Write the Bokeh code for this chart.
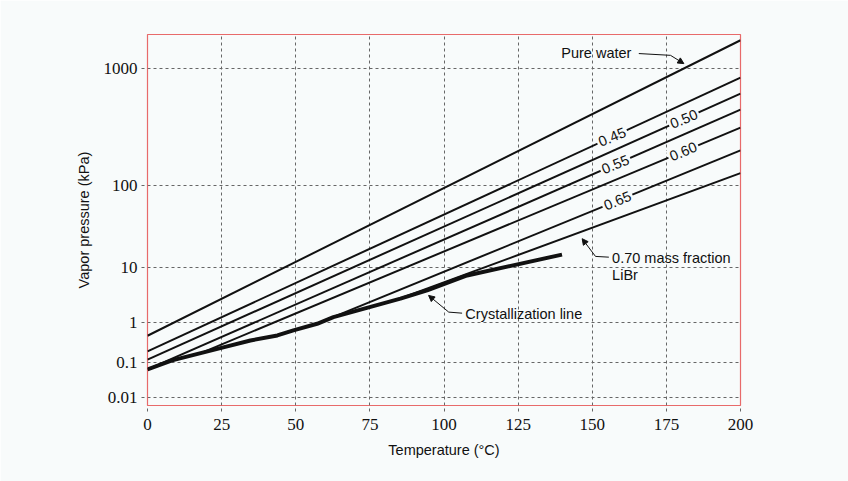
import numpy as np
from bokeh.plotting import figure
from bokeh.models import FixedTicker, Label, Arrow, NormalHead
from bokeh.embed import file_html
from bokeh.resources import INLINE

# Solution temperature axis (°C)
temp_ticks = [0, 25, 50, 75, 100, 125, 150, 175, 200]

# Vapor pressure axis (Dühring scale): each pressure label sits at the
# saturation temperature of pure water at that pressure
pressure_labels = ["0.01", "0.1", "1", "10", "100", "1000"]
pressure_sat_temp = [-41.6, -18.4, 9.0, 46.5, 102.0, 181.2]

# Equilibrium lines: solution temperature -> refrigerant saturation temperature
line_names = ["Pure water", "0.45", "0.50", "0.55", "0.60", "0.65", "0.70"]
t_start = [0, 0, 0, 0, 18, 57, 85]
sat_start = [0.0, -10.6, -16.1, -22.8, -11.7, 8.0, 25.1]
t_end = [200, 200, 200, 200, 200, 200, 200]
sat_end = [200.0, 174.7, 163.9, 153.1, 140.9, 125.5, 110.1]

# Crystallization line
cryst_t = [0, 8.3, 25.9, 34.7, 43.8, 49.2, 57.2, 62.7, 85.3, 94.3, 107.8, 139.8]
cryst_sat = [-22.8, -16.7, -7.7, -3.2, 0.2, 3.6, 8.1, 12.6, 25.1, 30.7, 40.8, 54.9]

# Inline concentration labels and the temperature at which each sits
inline_labels = ["0.45", "0.50", "0.55", "0.60", "0.65"]
inline_label_t = [156.7, 180.9, 157.8, 180.7, 158.5]

BG = "#f8fbfb"
INK = "#111111"
GRID = "#666666"
SANS = "Liberation Sans"
SERIF = "Liberation Serif"

p = figure(width=848, height=481, x_range=(0, 200), y_range=(-47.2, 203.9),
           output_backend="svg", toolbar_location=None,
           min_border_left=147, min_border_right=108,
           min_border_top=34, min_border_bottom=76)

p.background_fill_color = BG
p.border_fill_color = BG
p.outline_line_color = "#e86a6a"
p.outline_line_width = 1.2

# axes
xt = FixedTicker(ticks=temp_ticks)
yt = FixedTicker(ticks=pressure_sat_temp)
p.xaxis.ticker = xt
p.yaxis.ticker = yt
p.xgrid.ticker = xt
p.ygrid.ticker = yt
p.yaxis.major_label_overrides = {v: s for v, s in zip(pressure_sat_temp, pressure_labels)}

for ax in (p.xaxis[0], p.yaxis[0]):
    ax.axis_line_color = None
    ax.minor_tick_line_color = None
    ax.major_tick_in = 0
    ax.major_tick_out = 6
    ax.major_tick_line_color = GRID
    ax.major_tick_line_dash = "3 3"
    ax.major_label_text_font = SERIF
    ax.major_label_text_font_size = "17px"
    ax.major_label_text_color = INK
    ax.axis_label_text_font = SANS
    ax.axis_label_text_font_size = "14.5px"
    ax.axis_label_text_font_style = "normal"
    ax.axis_label_text_color = INK

p.xaxis.axis_label = "Temperature (°C)"
p.yaxis.axis_label = "Vapor pressure (kPa)"
p.xaxis.major_label_standoff = 7
p.yaxis.major_label_standoff = 4
p.xaxis.axis_label_standoff = 9
p.yaxis.axis_label_standoff = 9

for g in (p.xgrid[0], p.ygrid[0]):
    g.grid_line_color = GRID
    g.grid_line_dash = "3 3"
    g.grid_line_width = 1

# equilibrium lines
for i in range(len(line_names)):
    p.line([t_start[i], t_end[i]], [sat_start[i], sat_end[i]],
           line_color=INK, line_width=2)

# crystallization line
p.line(cryst_t, cryst_sat, line_color=INK, line_width=4, line_join="round")

# inline concentration labels, breaking the line they sit on
for name, t in zip(inline_labels, inline_label_t):
    i = line_names.index(name)
    y = float(np.interp(t, [t_start[i], t_end[i]], [sat_start[i], sat_end[i]]))
    p.add_layout(Label(x=t, y=y, text=name, angle=0.40, angle_units="rad",
                       text_align="center", text_baseline="middle",
                       text_font=SANS, text_font_size="14.5px", text_color=INK,
                       background_fill_color=BG, padding=2))

def note(text, x, y, align="left"):
    p.add_layout(Label(x=x, y=y, text=text, text_align=align,
                       text_baseline="middle", text_font=SANS,
                       text_font_size="14.5px", text_color=INK))

def leader(xs, ys):
    p.line(xs[:-1], ys[:-1], line_color=INK, line_width=1)
    p.add_layout(Arrow(x_start=xs[-2], y_start=ys[-2], x_end=xs[-1], y_end=ys[-1],
                       line_color=INK, line_width=1,
                       end=NormalHead(size=6, fill_color=INK, line_color=INK)))

note("Pure water", 163.2, 191.7, align="right")
leader([165.7, 176.4, 180.9], [191.0, 189.8, 184.2])

note("0.70 mass fraction", 156.7, 52.8)
note("LiBr", 156.7, 40.8)
leader([155.6, 151.1, 146.6], [53.2, 53.7, 65.7])

note("Crystallization line", 107.2, 14.9)
leader([106.1, 101.6, 94.8], [15.3, 16.0, 27.3])

open("out.html", "w").write(file_html(p, INLINE))
